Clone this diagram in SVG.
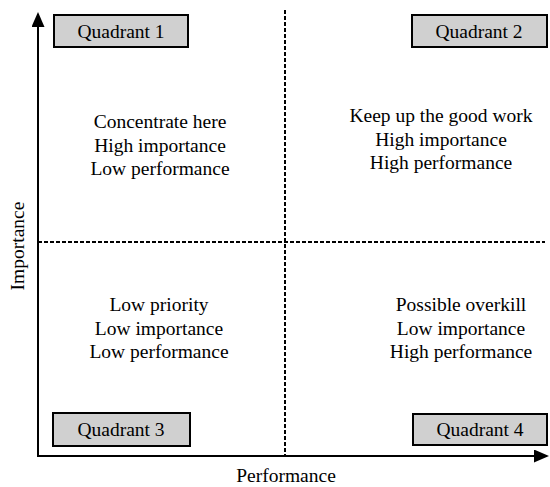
<svg xmlns="http://www.w3.org/2000/svg" width="550" height="487" viewBox="0 0 550 487">
  <style>
    text { font-family: "Liberation Serif", "Times New Roman", serif; font-size: 19.5px; fill: #000; text-anchor: middle; }
    .box { fill: #d0d0d0; stroke: #000; stroke-width: 2; }
    .axis { stroke: #000; stroke-width: 2; fill: none; }
    .divider { stroke: #000; stroke-width: 2; stroke-dasharray: 4 2; fill: none; }
  </style>
  <defs>
    <marker id="arrow" markerWidth="15" markerHeight="13" refX="13" refY="6.5" orient="auto" markerUnits="userSpaceOnUse">
      <path d="M0,0 L15,6.5 L0,13 Z" fill="#000"/>
    </marker>
  </defs>

  <g id="connectors">
    <line class="divider" x1="285" y1="10" x2="285" y2="455"/>
    <line class="divider" x1="38" y1="242" x2="545" y2="242"/>
    <line class="axis" x1="38" y1="456" x2="38" y2="14" marker-end="url(#arrow)"/>
    <line class="axis" x1="37" y1="456" x2="547" y2="456" marker-end="url(#arrow)"/>
  </g>

  <g id="quadrant1">
    <rect class="box" x="54" y="15" width="134" height="32"/>
    <text x="121" y="38">Quadrant 1</text>
  </g>
  <g id="quadrant2">
    <rect class="box" x="412" y="15" width="135" height="32"/>
    <text x="479" y="38">Quadrant 2</text>
  </g>
  <g id="quadrant3">
    <rect class="box" x="53" y="413" width="137" height="33"/>
    <text x="121" y="436">Quadrant 3</text>
  </g>
  <g id="quadrant4">
    <rect class="box" x="413" y="414" width="134" height="31"/>
    <text x="480" y="436">Quadrant 4</text>
  </g>

  <g id="text-q1">
    <text x="160" y="128">Concentrate here</text>
    <text x="160" y="152">High importance</text>
    <text x="160" y="175">Low performance</text>
  </g>
  <g id="text-q2">
    <text x="441" y="122">Keep up the good work</text>
    <text x="441" y="146">High importance</text>
    <text x="441" y="169">High performance</text>
  </g>
  <g id="text-q3">
    <text x="159" y="311">Low priority</text>
    <text x="159" y="335">Low importance</text>
    <text x="159" y="358">Low performance</text>
  </g>
  <g id="text-q4">
    <text x="461" y="311">Possible overkill</text>
    <text x="461" y="335">Low importance</text>
    <text x="461" y="358">High performance</text>
  </g>

  <g id="axis-labels">
    <text x="286" y="482">Performance</text>
    <text transform="translate(24,246) rotate(-90)">Importance</text>
  </g>
</svg>
